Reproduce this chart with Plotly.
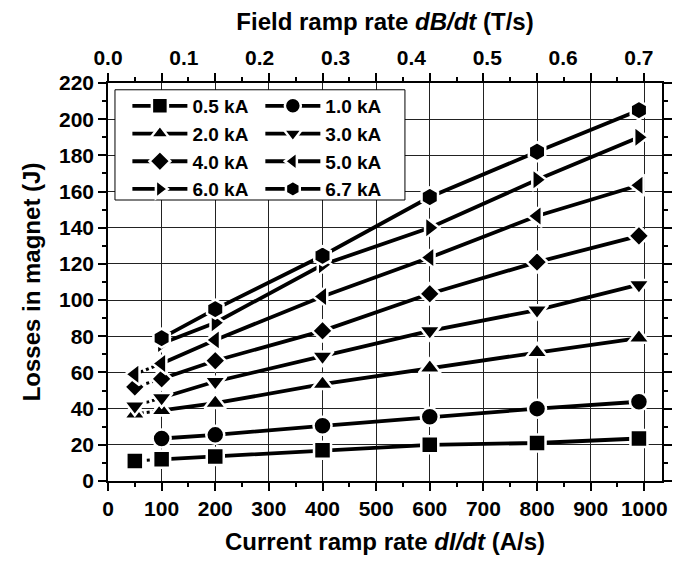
import plotly.graph_objects as go

# ---------------- data ----------------
current_rate = [50, 100, 200, 400, 600, 800, 990]          # dI/dt (A/s)
field_tick_labels = [0.0, 0.1, 0.2, 0.3, 0.4, 0.5, 0.6, 0.7]  # dB/dt (T/s)
field_per_current = 0.7 / 990                              # T/s per A/s (top axis link)
current_ticks = list(range(0, 1001, 100))
loss_ticks = list(range(0, 221, 20))

series_names = ["0.5 kA", "1.0 kA", "2.0 kA", "3.0 kA",
                "4.0 kA", "5.0 kA", "6.0 kA", "6.7 kA"]
loss_05 = [11.0, 12.0, 13.5, 17.0, 20.0, 21.0, 23.5]
loss_10 = [None, 23.5, 25.5, 30.5, 35.5, 40.0, 43.8]
loss_20 = [37.0, 39.0, 43.0, 53.5, 62.5, 71.0, 79.0]
loss_30 = [41.5, 46.0, 55.0, 69.0, 83.0, 94.5, 108.5]
loss_40 = [52.0, 56.5, 66.5, 83.0, 103.5, 121.0, 135.5]
loss_50 = [59.0, 65.0, 78.0, 102.0, 123.5, 146.5, 163.5]
loss_60 = [None, 76.0, 87.5, 119.5, 140.0, 166.5, 190.0]
loss_67 = [None, 79.0, 95.0, 124.5, 157.0, 182.0, 205.0]
all_losses = [loss_05, loss_10, loss_20, loss_30, loss_40, loss_50, loss_60, loss_67]

symbols = ["square", "circle", "triangle-up", "triangle-down",
           "diamond", "triangle-left", "triangle-right", "hexagon"]
sizes = [17, 18, 19, 19, 16, 19, 19, 19]

FONT = "Liberation Sans, Arial, sans-serif"
fig = go.Figure()

for i, (name, ys) in enumerate(zip(series_names, all_losses)):
    legend_id = "legend" if i % 2 == 0 else "legend2"
    marker = dict(symbol=symbols[i], size=sizes[i], color="black",
                  line=dict(color="white", width=2.5))
    if ys[0] is not None:
        fig.add_trace(go.Scatter(
            x=current_rate[:2], y=ys[:2], mode="lines+markers",
            line=dict(color="black", width=3, dash="dot"),
            marker=marker, showlegend=False, hoverinfo="skip"))
    fig.add_trace(go.Scatter(
        x=current_rate[1:], y=ys[1:], mode="lines+markers",
        name="<b>%s</b>" % name,
        line=dict(color="black", width=3.8), marker=marker,
        legend=legend_id))

top_vals = [b / field_per_current for b in field_tick_labels]
top_text = ["<b>%.1f</b>" % b for b in field_tick_labels]
fig.add_trace(go.Scatter(x=[None], y=[None], xaxis="x2", showlegend=False))

tick_font = dict(family=FONT, size=21, color="black", weight="bold")
title_font = dict(family=FONT, size=24, color="black")
legend_font = dict(family=FONT, size=19, color="black", weight="bold")

fig.update_layout(
    width=683, height=561,
    margin=dict(l=100, r=29, t=65, b=88),
    paper_bgcolor="white", plot_bgcolor="white",
    font=dict(family=FONT, color="black"),
    xaxis=dict(
        range=[0, 1033], tickvals=current_ticks,
        ticktext=["<b>%d</b>" % v for v in current_ticks],
        ticks="outside", ticklen=8, tickwidth=1.5, tickcolor="black",
        minor=dict(tickvals=list(range(50, 1001, 100)), ticks="outside",
                   ticklen=4, tickwidth=1.5, tickcolor="black", showgrid=False),
        showline=True, linecolor="black", linewidth=1.5, mirror="ticks",
        showgrid=True, gridcolor="#222", gridwidth=1, zeroline=False,
        tickfont=tick_font,
        title=dict(text="<b>Current ramp rate <i>dI/dt</i> (A/s)</b>",
                   font=title_font, standoff=14),
    ),
    xaxis2=dict(
        overlaying="x", side="top", range=[0, 1033],
        tickvals=top_vals, ticktext=top_text,
        ticks="outside", ticklen=9, tickcolor="rgba(0,0,0,0)",
        showgrid=False, zeroline=False, showline=False,
        tickfont=tick_font,
        title=dict(text="<b>Field ramp rate <i>dB/dt</i> (T/s)</b>",
                   font=title_font, standoff=9),
    ),
    yaxis=dict(
        range=[0, 220], tickvals=loss_ticks,
        ticktext=["<b>%d</b>" % v for v in loss_ticks],
        ticks="outside", ticklen=8, tickwidth=1.5, tickcolor="black",
        minor=dict(tickvals=list(range(10, 220, 20)), ticks="outside",
                   ticklen=4, tickwidth=1.5, tickcolor="black", showgrid=False),
        showline=True, linecolor="black", linewidth=1.5, mirror="ticks",
        showgrid=True, gridcolor="#222", gridwidth=1, zeroline=False,
        tickfont=tick_font,
        title=dict(text="<b>Losses in magnet (J)</b>", font=title_font, standoff=12),
    ),
    legend=dict(x=0.035, y=0.99, xanchor="left", yanchor="top",
                bgcolor="rgba(0,0,0,0)", borderwidth=0, itemwidth=55,
                font=legend_font, tracegroupgap=0),
    legend2=dict(x=0.275, y=0.99, xanchor="left", yanchor="top",
                 bgcolor="rgba(0,0,0,0)", borderwidth=0, itemwidth=55,
                 font=legend_font, tracegroupgap=0),
    shapes=[dict(type="rect", xref="paper", yref="paper",
                 x0=0.0126, x1=0.536, y0=0.706, y1=0.983,
                 fillcolor="white", line=dict(color="black", width=1),
                 layer="above")],
    showlegend=True,
)

fig.write_html("out.html")
